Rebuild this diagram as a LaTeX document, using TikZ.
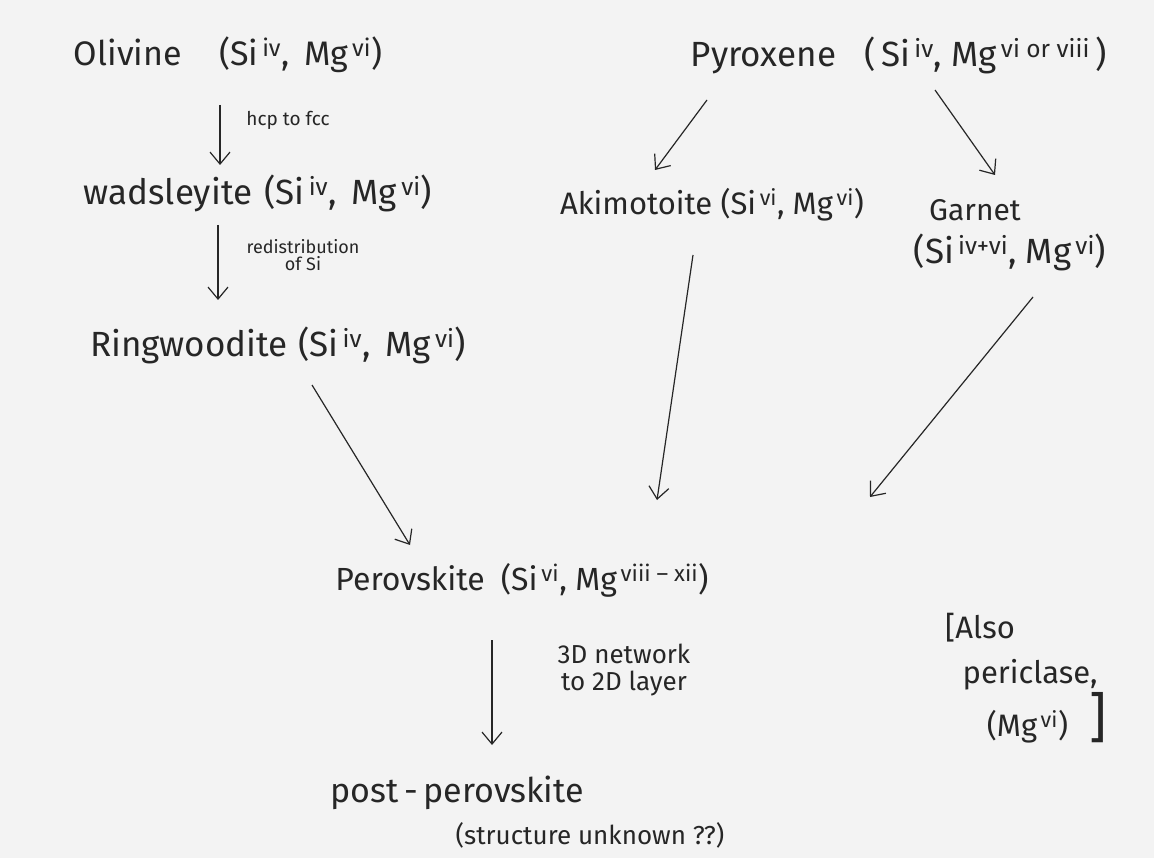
\documentclass[tikz,border=0pt]{standalone}
\usepackage{fontspec}
\setmainfont{Fira Sans}
\usetikzlibrary{arrows.meta}
\definecolor{paper}{HTML}{F3F3F3}
\definecolor{ink}{HTML}{262626}
\newcommand{\sps}[1]{\textsuperscript{\,#1}}
\newcommand{\fsz}[1]{\fontsize{#1}{#1}\selectfont}
\tikzset{
  lbl/.style={inner sep=0pt, text=ink, font=\fsz{#1}},
  small/.style={inner sep=0pt, text=ink, align=center, font=\fsz{#1}},
  arr/.style={draw=ink, line width=1.2pt, -{Straight Barb[length=12pt,width=20pt,line width=1.2pt]}}
}
\begin{document}
\begin{tikzpicture}[x=1pt,y=-1pt]
\fill[paper] (0,0) rectangle (1154,858);
\useasboundingbox (0,0) rectangle (1154,858);

\node[lbl=34] (ol) at (228,55) {Olivine\hspace{1.1em}(Si\sps{iv}, \,Mg\sps{vi})};
\node[lbl=35] (py) at (899,55) {Pyroxene\hspace{0.8em}(\,Si\sps{iv}, Mg\sps{vi or viii}\,)};
\node[lbl=35] (wad) at (258,193) {wadsleyite\hspace{0.35em}(Si\sps{iv}, \,Mg\sps{vi})};
\node[lbl=35] (ring) at (278,345) {Ringwoodite\hspace{0.3em}(Si\sps{iv}, \,Mg\sps{vi})};
\node[lbl=31] (aki) at (712,205) {Akimotoite (Si\sps{vi}, Mg\sps{vi})};
\node[lbl=30] (gar) at (975,210) {Garnet};
\node[lbl=35] (garf) at (1010,252) {(Si\sps{iv+vi}, Mg\sps{vi})};
\node[lbl=32] (per) at (522,580) {Perovskite\hspace{0.5em}(Si\sps{vi}, Mg\sps{viii -- xii})};
\node[lbl=34] (post) at (457,793) {post\,-\,perovskite};
\node[lbl=26] (unk) at (590,835) {(structure unknown ??)};
\node[lbl=31] (also1) at (980,628) {[Also};
\node[lbl=31] (also2) at (1030,675) {periclase,};
\node[lbl=31] (also3) at (1047,718) {(Mg\sps{vi})\hspace{0.7em}{\fsz{54}]}};

\node[small=19] (l1) at (288,120) {hcp to fcc};
\node[small=18] (l2) at (303,255) {redistribution\\[-1pt]of Si};
\node[small=26] (l3) at (624,670) {3D network\\[1pt]to 2D layer};

\draw[arr] ([shift={(-8,50)}]ol.center) -- ([shift={(-38,-28)}]wad.center);
\draw[arr] ([shift={(-40,32)}]wad.center) -- ([shift={(-60,-45)}]ring.center);
\draw[arr] ([shift={(34,40)}]ring.center) -- ([shift={(-112,-35)}]per.center);
\draw[arr] ([shift={(-192,45)}]py.center) -- ([shift={(-57,-35)}]aki.center);
\draw[arr] ([shift={(36,35)}]py.center) -- ([shift={(20,-35)}]gar.center);
\draw[arr] ([shift={(-19,50)}]aki.center) -- ([shift={(135,-80)}]per.center);
\draw[arr] ([shift={(23,45)}]garf.center) -- ([shift={(348,-83)}]per.center);
\draw[arr] ([shift={(-30,60)}]per.center) -- ([shift={(35,-48)}]post.center);
\end{tikzpicture}
\end{document}
